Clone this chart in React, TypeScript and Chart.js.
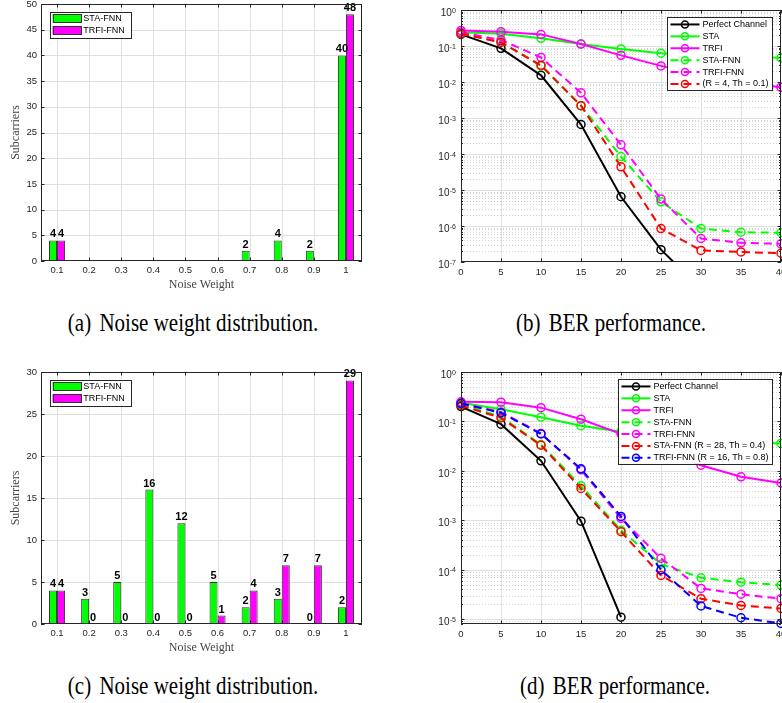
import React, { useEffect, useRef } from 'react';
import { Chart, registerables } from 'chart.js';

Chart.register(...registerables);

// ---------- data ----------
const noiseWeights = ['0.1', '0.2', '0.3', '0.4', '0.5', '0.6', '0.7', '0.8', '0.9', '1'];
const staFnnCountsA = [4, 0, 0, 0, 0, 0, 2, 4, 2, 40];
const trfiFnnCountsA = [4, 0, 0, 0, 0, 0, 0, 0, 0, 48];
const staFnnCountsC = [4, 3, 5, 16, 12, 5, 2, 3, 0, 2];
const trfiFnnCountsC = [4, 0, 0, 0, 0, 1, 4, 7, 7, 29];

const snrDb = [0, 5, 10, 15, 20, 25, 30, 35, 40];
// panel (b)
const berPerfectB = [0.21, 0.086, 0.0153, 6.6e-4, 6.5e-6, 2.2e-7, 1.8e-8, null, null];
const berStaB = [0.24, 0.22, 0.163, 0.114, 0.083, 0.063, 0.055, 0.05, 0.047];
const berTrfiB = [0.27, 0.25, 0.21, 0.113, 0.055, 0.028, 0.015, 0.0095, 0.0071];
const berStaFnnB = [0.22, 0.13, 0.028, 0.0022, 8.5e-5, 4.7e-6, 8.5e-7, 6.7e-7, 6.5e-7];
const berTrfiFnnB = [0.24, 0.147, 0.048, 0.005, 1.8e-4, 5.6e-6, 4.5e-7, 3.4e-7, 3.2e-7];
const berStaFnnR4B = [0.22, 0.126, 0.029, 0.0022, 4.4e-5, 8.5e-7, 2.1e-7, 1.9e-7, 1.75e-7];
// panel (d)
const berPerfectD = [0.2, 0.088, 0.016, 9.6e-4, 1.1e-5, null, null, null, null];
const berStaD = [0.24, 0.177, 0.122, 0.082, 0.062, 0.05, 0.043, 0.039, 0.036];
const berTrfiD = [0.25, 0.245, 0.19, 0.111, 0.056, 0.027, 0.013, 0.0076, 0.0057];
const berStaFnnD = [0.22, 0.125, 0.034, 0.005, 6.3e-4, 1.3e-4, 6.9e-5, 5.6e-5, 4.9e-5];
const berTrfiFnnD = [0.235, 0.155, 0.057, 0.0105, 1.1e-3, 1.7e-4, 4.2e-5, 3.2e-5, 2.6e-5];
const berStaFnnR28D = [0.21, 0.118, 0.033, 0.0044, 5.9e-4, 7.7e-5, 2.6e-5, 1.9e-5, 1.65e-5];
const berTrfiFnnR16D = [0.23, 0.15, 0.056, 0.011, 1.2e-3, 1.0e-4, 1.85e-5, 1.07e-5, 8.2e-6];

// ---------- styles ----------
const AXIS = '#262626';
const TEXT = '#262626';
const GRID = '#e0e0e0';
const GRID_MINOR = '#d4d4d4';
const SANS = '"Liberation Sans", Arial, sans-serif';
const SERIF = '"Liberation Serif", "Times New Roman", serif';
const GREEN = '#00ff00';
const MAGENTA = '#ff00ff';

function hline(ctx: CanvasRenderingContext2D, x1: number, x2: number, y: number) {
  const yy = Math.round(y) + 0.5;
  ctx.beginPath();
  ctx.moveTo(x1, yy);
  ctx.lineTo(x2, yy);
  ctx.stroke();
}
function vline(ctx: CanvasRenderingContext2D, x: number, y1: number, y2: number) {
  const xx = Math.round(x) + 0.5;
  ctx.beginPath();
  ctx.moveTo(xx, y1);
  ctx.lineTo(xx, y2);
  ctx.stroke();
}

function xTickPixels(chart: any): number[] {
  const xs = chart.scales.x;
  return xs.ticks.map((_: any, i: number) => xs.getPixelForTick(i));
}

function logDecades(ys: any): number[] {
  const lo = Math.ceil(Math.log10(ys.min) - 1e-9);
  const hi = Math.floor(Math.log10(ys.max) + 1e-9);
  const out: number[] = [];
  for (let d = lo; d <= hi; d++) out.push(d);
  return out;
}
function logMinors(ys: any): number[] {
  const out: number[] = [];
  const lo = Math.floor(Math.log10(ys.min)) - 1;
  const hi = Math.ceil(Math.log10(ys.max));
  for (let d = lo; d <= hi; d++) {
    for (let k = 2; k <= 9; k++) {
      const v = k * Math.pow(10, d);
      if (v >= ys.min * 0.999 && v <= ys.max * 1.001) out.push(v);
    }
  }
  return out;
}

const matlabPlugin = {
  id: 'matlab',
  beforeDatasetsDraw(chart: any, _args: any, opts: any) {
    const { ctx, chartArea: a } = chart;
    const ys = chart.scales.y;
    ctx.save();
    ctx.beginPath();
    ctx.rect(a.left, a.top, a.right - a.left, a.bottom - a.top);
    ctx.clip();
    ctx.lineWidth = 1;
    if (opts.logY) {
      ctx.strokeStyle = GRID_MINOR;
      ctx.setLineDash([1, 2]);
      logMinors(ys).forEach((v) => hline(ctx, a.left, a.right, ys.getPixelForValue(v)));
      ctx.setLineDash([]);
    }
    ctx.strokeStyle = GRID;
    xTickPixels(chart).forEach((px) => vline(ctx, px, a.top, a.bottom));
    if (opts.logY) {
      logDecades(ys).forEach((d) => hline(ctx, a.left, a.right, ys.getPixelForValue(Math.pow(10, d))));
    } else {
      ys.ticks.forEach((t: any) => hline(ctx, a.left, a.right, ys.getPixelForValue(t.value)));
    }
    ctx.restore();
  },
  afterDatasetsDraw(chart: any, _args: any, opts: any) {
    const { ctx, chartArea: a } = chart;
    const ys = chart.scales.y;
    ctx.save();

    // bar value labels
    if (opts.barLabels) {
      ctx.font = 'bold 11px ' + SANS;
      ctx.fillStyle = '#000';
      ctx.textAlign = 'center';
      ctx.textBaseline = 'bottom';
      chart.data.datasets.forEach((ds: any, di: number) => {
        const meta = chart.getDatasetMeta(di);
        meta.data.forEach((el: any, i: number) => {
          const v = ds.data[i];
          if (v === 0 && !opts.showZero) return;
          ctx.fillText(String(v), el.x, el.y - 0.5);
        });
      });
    }

    // box
    ctx.strokeStyle = AXIS;
    ctx.lineWidth = 1;
    ctx.strokeRect(Math.round(a.left) + 0.5, Math.round(a.top) + 0.5,
      Math.round(a.right - a.left) - 1, Math.round(a.bottom - a.top) - 1);

    // inward tick marks
    const TL = 3.5;
    xTickPixels(chart).forEach((px) => {
      vline(ctx, px, a.bottom, a.bottom - TL);
      vline(ctx, px, a.top, a.top + TL);
    });
    if (opts.logY) {
      logDecades(ys).forEach((d) => {
        const py = ys.getPixelForValue(Math.pow(10, d));
        hline(ctx, a.left, a.left + TL, py);
        hline(ctx, a.right - TL, a.right, py);
      });
      logMinors(ys).forEach((v) => {
        const py = ys.getPixelForValue(v);
        hline(ctx, a.left, a.left + 2, py);
        hline(ctx, a.right - 2, a.right, py);
      });
      // decade labels 10^n
      ctx.fillStyle = TEXT;
      ctx.textBaseline = 'alphabetic';
      logDecades(ys).forEach((d) => {
        const py = ys.getPixelForValue(Math.pow(10, d));
        const exp = String(d);
        const right = a.left - 5;
        ctx.font = '7px ' + SANS;
        const ew = ctx.measureText(exp).width;
        ctx.textAlign = 'left';
        ctx.fillText(exp, right - ew, py + 2.5);
        ctx.font = '10px ' + SANS;
        ctx.textAlign = 'right';
        ctx.fillText('10', right - ew - 0.3, py + 6);
      });
    } else {
      ys.ticks.forEach((t: any) => {
        const py = ys.getPixelForValue(t.value);
        hline(ctx, a.left, a.left + TL, py);
        hline(ctx, a.right - TL, a.right, py);
      });
    }

    // legends
    const dss = chart.data.datasets;
    ctx.font = '9px ' + SANS;
    ctx.textBaseline = 'middle';
    ctx.textAlign = 'left';
    const tw = Math.max(...dss.map((d: any) => ctx.measureText(d.label).width));
    if (opts.legend === 'bar') {
      const x0 = a.left + 9;
      const y0 = a.top + 7.7;
      const w = 33.3 + tw + 6;
      const h = 25.6;
      ctx.fillStyle = '#fff';
      ctx.fillRect(x0, y0, w, h);
      ctx.strokeStyle = AXIS;
      ctx.strokeRect(Math.round(x0) + 0.5, Math.round(y0) + 0.5, Math.round(w), Math.round(h));
      dss.forEach((d: any, i: number) => {
        const cy = y0 + 6.6 + i * 12;
        ctx.fillStyle = d.backgroundColor;
        ctx.fillRect(x0 + 2.5, cy - 4.3, 28.5, 8.6);
        ctx.strokeStyle = '#333';
        ctx.strokeRect(Math.round(x0 + 2.5) + 0.5, Math.round(cy - 4.3) + 0.5, 28, 8);
        ctx.fillStyle = '#000';
        ctx.fillText(d.label, x0 + 33.3, cy);
      });
    } else if (opts.legend === 'line') {
      const n = dss.length;
      const rowH = 11.9;
      const w = 35 + tw + 4;
      const h = n * rowH + 1.5;
      const x0 = a.right - 8.5 - w;
      const y0 = a.top + 7;
      ctx.fillStyle = '#fff';
      ctx.fillRect(x0, y0, w, h);
      ctx.strokeStyle = AXIS;
      ctx.lineWidth = 1;
      ctx.strokeRect(Math.round(x0) + 0.5, Math.round(y0) + 0.5, Math.round(w), Math.round(h));
      dss.forEach((d: any, i: number) => {
        const cy = y0 + 1.5 + rowH / 2 + i * rowH;
        ctx.strokeStyle = d.borderColor;
        ctx.lineWidth = 2;
        ctx.setLineDash(d.borderDash || []);
        ctx.beginPath();
        ctx.moveTo(x0 + 3, cy);
        ctx.lineTo(x0 + 32, cy);
        ctx.stroke();
        ctx.setLineDash([]);
        ctx.lineWidth = 1.5;
        ctx.beginPath();
        ctx.arc(x0 + 17.5, cy, 3.5, 0, Math.PI * 2);
        ctx.stroke();
        ctx.fillStyle = '#000';
        ctx.fillText(d.label, x0 + 35, cy);
      });
    }
    ctx.restore();
  },
};

Chart.register(matlabPlugin);

// ---------- config builders ----------
function barConfig(sta: number[], trfi: number[], yMax: number, showZero: boolean, padTop: number, padBottom: number) {
  const mk = (label: string, data: number[], color: string) => ({
    label,
    data,
    backgroundColor: color,
    borderColor: '#333',
    borderWidth: 1,
    borderSkipped: false,
    categoryPercentage: 0.5,
    barPercentage: 1.0,
  });
  return {
    type: 'bar',
    data: {
      labels: noiseWeights,
      datasets: [mk('STA-FNN', sta, GREEN), mk('TRFI-FNN', trfi, MAGENTA)],
    },
    options: {
      animation: false,
      responsive: false,
      devicePixelRatio: 1,
      events: [],
      layout: { padding: { left: 0, right: 38, top: padTop, bottom: padBottom } },
      plugins: {
        legend: { display: false },
        tooltip: { enabled: false },
        matlab: { logY: false, barLabels: true, showZero, legend: 'bar' },
      },
      scales: {
        x: {
          grid: { display: false, drawTicks: false },
          border: { display: false },
          ticks: { font: { family: SANS, size: 9.5 }, color: TEXT, padding: 4 },
          title: {
            display: true,
            text: 'Noise Weight',
            font: { family: SERIF, size: 12 },
            color: '#444',
            padding: { top: 0, bottom: 3 },
          },
          afterFit: (s: any) => { s.height = 34; },
        },
        y: {
          min: 0,
          max: yMax,
          grid: { display: false, drawTicks: false },
          border: { display: false },
          ticks: { stepSize: 5, font: { family: SANS, size: 9.5 }, color: TEXT, padding: 4 },
          title: {
            display: true,
            text: 'Subcarriers',
            font: { family: SERIF, size: 12 },
            color: '#444',
            padding: { top: 8.3, bottom: 0 },
          },
          afterFit: (s: any) => { s.width = 41; },
        },
      },
    },
  };
}

type Series = { label: string; values: (number | null)[]; color: string; dashed: boolean };

function lineConfig(series: Series[], yMin: number, padTop: number, padBottom: number, clipBottom: number) {
  const n = series.length;
  return {
    type: 'line',
    data: {
      datasets: series.map((s, i) => ({
        label: s.label,
        data: snrDb.map((x, j) => ({ x, y: s.values[j] })),
        borderColor: s.color,
        backgroundColor: s.color,
        borderWidth: 2,
        borderDash: s.dashed ? [8, 5] : [],
        pointRadius: 4,
        pointBorderWidth: 1.5,
        pointBackgroundColor: 'rgba(0,0,0,0)',
        pointBorderColor: s.color,
        pointStyle: 'circle',
        tension: 0,
        fill: false,
        spanGaps: false,
        order: n - i,
        clip: { left: 8, right: 8, top: 8, bottom: clipBottom },
      })),
    },
    options: {
      animation: false,
      responsive: false,
      devicePixelRatio: 1,
      events: [],
      layout: { padding: { left: 0, right: 29, top: padTop, bottom: padBottom } },
      plugins: {
        legend: { display: false },
        tooltip: { enabled: false },
        matlab: { logY: true, barLabels: false, showZero: false, legend: 'line' },
      },
      scales: {
        x: {
          type: 'linear',
          min: 0,
          max: 40,
          grid: { display: false, drawTicks: false },
          border: { display: false },
          ticks: { stepSize: 5, font: { family: SANS, size: 9.5 }, color: TEXT, padding: 5 },
          afterFit: (s: any) => { s.height = 30; },
        },
        y: {
          type: 'logarithmic',
          min: yMin,
          max: 1,
          grid: { display: false, drawTicks: false },
          border: { display: false },
          ticks: { display: false },
          afterFit: (s: any) => { s.width = 61; },
        },
      },
    },
  };
}

const seriesB: Series[] = [
  { label: 'Perfect Channel', values: berPerfectB, color: '#000000', dashed: false },
  { label: 'STA', values: berStaB, color: GREEN, dashed: false },
  { label: 'TRFI', values: berTrfiB, color: MAGENTA, dashed: false },
  { label: 'STA-FNN', values: berStaFnnB, color: GREEN, dashed: true },
  { label: 'TRFI-FNN', values: berTrfiFnnB, color: MAGENTA, dashed: true },
  { label: '(R = 4, Th = 0.1)', values: berStaFnnR4B, color: '#ff0000', dashed: true },
];

const seriesD: Series[] = [
  { label: 'Perfect Channel', values: berPerfectD, color: '#000000', dashed: false },
  { label: 'STA', values: berStaD, color: GREEN, dashed: false },
  { label: 'TRFI', values: berTrfiD, color: MAGENTA, dashed: false },
  { label: 'STA-FNN', values: berStaFnnD, color: GREEN, dashed: true },
  { label: 'TRFI-FNN', values: berTrfiFnnD, color: MAGENTA, dashed: true },
  { label: 'STA-FNN (R = 28, Th = 0.4)', values: berStaFnnR28D, color: '#ff0000', dashed: true },
  { label: 'TRFI-FNN (R = 16, Th = 0.8)', values: berTrfiFnnR16D, color: '#0000ff', dashed: true },
];

// ---------- components ----------
function ChartBox({ config, left, top, width, height }: any) {
  const ref = useRef<HTMLCanvasElement | null>(null);
  useEffect(() => {
    if (!ref.current) return;
    const chart = new Chart(ref.current, config);
    return () => chart.destroy();
  }, [config]);
  return (
    <canvas
      ref={ref}
      width={width}
      height={height}
      style={{ position: 'absolute', left, top, width, height, display: 'block' }}
    />
  );
}

function Caption({ cx, baseline, tag, text }: any) {
  return (
    <div
      style={{
        position: 'absolute',
        left: cx - 200,
        width: 400,
        top: baseline - 17.6,
        textAlign: 'center',
        fontFamily: SERIF,
        fontSize: 21,
        lineHeight: '21px',
        whiteSpace: 'nowrap',
        transform: 'scaleY(1.15)',
        transformOrigin: '50% 17.6px',
        color: '#000',
      }}
    >
      <span style={{ marginRight: 3 }}>{tag}</span> {text}
    </div>
  );
}

const cfgA = barConfig(staFnnCountsA, trfiFnnCountsA, 50, false, 14, 5);
const cfgB = lineConfig(seriesB, 1e-7, 20, 8, 0);
const cfgC = barConfig(staFnnCountsC, trfiFnnCountsC, 30, true, 22, 2);
const cfgD = lineConfig(seriesD, 8e-6, 22, 6, 8);

export default function App() {
  return (
    <div
      style={{
        position: 'absolute',
        left: 0,
        top: 0,
        width: 782,
        height: 703,
        overflow: 'hidden',
        background: '#fff',
      }}
    >
      <ChartBox config={cfgA} left={0} top={-10} width={400} height={310} />
      <ChartBox config={cfgB} left={400} top={-10} width={410} height={310} />
      <ChartBox config={cfgC} left={0} top={350} width={400} height={310} />
      <ChartBox config={cfgD} left={400} top={350} width={410} height={310} />
      <Caption cx={193} baseline={331.7} tag="(a)" text="Noise weight distribution." />
      <Caption cx={611} baseline={331.7} tag="(b)" text="BER performance." />
      <Caption cx={193} baseline={694.7} tag="(c)" text="Noise weight distribution." />
      <Caption cx={615} baseline={694.7} tag="(d)" text="BER performance." />
    </div>
  );
}
